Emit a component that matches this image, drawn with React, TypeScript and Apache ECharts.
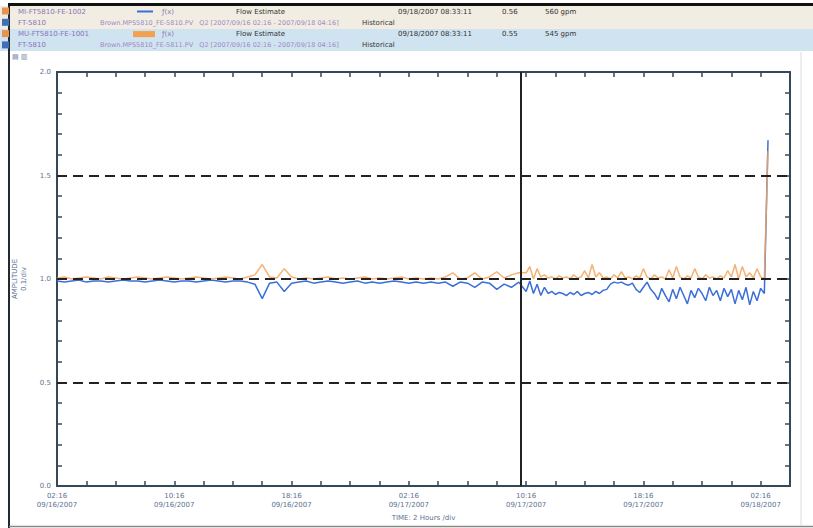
import React, { useEffect, useRef } from "react";
import * as echarts from "echarts";

// Time axis: hours since 09/16/2007 02:16, one division = 2 hours
const xTickLabels = [
  "02:16\n09/16/2007",
  "10:16\n09/16/2007",
  "18:16\n09/16/2007",
  "02:16\n09/17/2007",
  "10:16\n09/17/2007",
  "18:16\n09/17/2007",
  "02:16\n09/18/2007",
];
const yTickLabels = ["0.0", "0.5", "1.0", "1.5", "2.0"];

// first part: one sample every 0.5 h from hour 0
const EARLY_START = 0;
const EARLY_STEP = 0.5;
const blueEarly = [
  0.99, 0.985, 0.99, 0.995, 0.985, 0.99, 0.99, 0.985, 0.99, 0.995,
  0.99, 0.99, 0.985, 0.99, 0.995, 0.99, 0.985, 0.99, 0.99, 0.985,
  0.99, 0.995, 0.99, 0.985, 0.99, 0.99, 0.985, 0.975, 0.905, 0.98,
  0.985, 0.94, 0.98, 0.985, 0.99, 0.98, 0.985, 0.99, 0.985, 0.98,
  0.985, 0.99, 0.98, 0.985, 0.98, 0.985, 0.99, 0.985, 0.98, 0.985,
  0.98, 0.985, 0.98, 0.985, 0.965, 0.985, 0.98, 0.96, 0.985, 0.98,
  0.95, 0.975, 0.96, 0.985,
];
const orangeEarly = [
  1.005, 1.01, 1.0, 1.005, 1.01, 1.005, 1.0, 1.01, 1.005, 1.0,
  1.005, 1.01, 1.005, 1.0, 1.005, 1.01, 1.005, 1.0, 1.005, 1.01,
  1.005, 1.0, 1.005, 1.01, 1.005, 1.0, 1.01, 1.02, 1.07, 1.01,
  1.005, 1.05, 1.01, 1.0, 1.005, 1.0, 1.005, 1.01, 1.0, 1.005,
  1.0, 1.005, 1.01, 1.0, 1.005, 1.0, 1.005, 1.01, 1.0, 1.005,
  1.0, 1.005, 1.0, 1.01, 1.03, 1.0, 1.005, 1.03, 1.0, 1.01,
  1.035, 1.005, 1.02, 1.03,
];

// second part: one sample every 0.25 h from hour 32
const LATE_START = 32;
const LATE_STEP = 0.25;
const blueLate = [
  0.94, 0.99, 0.93, 0.975, 0.92, 0.96, 0.93, 0.94, 0.925, 0.935,
  0.93, 0.92, 0.935, 0.925, 0.94, 0.92, 0.93, 0.935, 0.925, 0.94,
  0.93, 0.945, 0.95, 0.975, 0.985, 0.98, 0.985, 0.975, 0.97, 0.98,
  0.95, 0.935, 0.96, 0.985, 0.95, 0.93, 0.9, 0.955, 0.92, 0.89,
  0.95, 0.905, 0.96, 0.92, 0.88, 0.945, 0.91, 0.955, 0.93, 0.895,
  0.96, 0.92, 0.945, 0.895, 0.955, 0.915, 0.95, 0.88, 0.945, 0.9,
  0.96, 0.875, 0.94, 0.895, 0.955, 0.93, 1.67,
];
const orangeLate = [
  1.03, 1.06, 1.0, 1.05, 1.01, 1.02, 1.005, 1.01, 1.0, 1.015,
  1.005, 1.01, 1.0, 1.02, 1.005, 1.01, 1.04, 1.005, 1.07, 1.01,
  1.03, 1.005, 1.01, 1.0, 1.02, 1.005, 1.035, 1.005, 1.01, 1.0,
  1.015, 1.005, 1.05, 1.01, 1.0, 1.02, 1.005, 1.01, 1.0, 1.045,
  1.005, 1.06, 1.01, 1.0, 1.015, 1.005, 1.05, 1.01, 1.0, 1.02,
  1.005, 1.01, 1.0, 1.015, 1.005, 1.04, 1.01, 1.07, 1.0, 1.06,
  1.01, 1.03, 1.005, 1.05, 1.01, 1.0, 1.62,
];

const cursorHour = 31.6;
const referenceLevels = [0.5, 1.0, 1.5];

const headerRows = [
  { tag: "MI-FT5810-FE-1002", src: "", desc: "Flow Estimate", time: "09/18/2007 08:33:11", val: "0.56", unit: "560 gpm", legend: "line" },
  { tag: "FT-5810", src: "Brown.MPS5810_FE-5810.PV   Q2 [2007/09/16 02:16 - 2007/09/18 04:16]", desc: "Historical", time: "", val: "", unit: "", legend: "" },
  { tag: "MU-FT5810-FE-1001", src: "", desc: "Flow Estimate", time: "09/18/2007 08:33:11", val: "0.55", unit: "545 gpm", legend: "box" },
  { tag: "FT-5810", src: "Brown.MPS5810_FE-5811.PV   Q2 [2007/09/16 02:16 - 2007/09/18 04:16]", desc: "Historical", time: "", val: "", unit: "", legend: "" },
];

function toPairs(start: number, step: number, vals: number[]) {
  return vals.map((v, i) => [start + i * step, v]);
}

export default function App() {
  const ref = useRef<HTMLDivElement>(null);
  useEffect(() => {
    if (!ref.current) return;
    const chart = echarts.init(ref.current, null, { renderer: "svg" });
    const blueData = [...toPairs(EARLY_START, EARLY_STEP, blueEarly), ...toPairs(LATE_START, LATE_STEP, blueLate)];
    const orangeData = [...toPairs(EARLY_START, EARLY_STEP, orangeEarly), ...toPairs(LATE_START, LATE_STEP, orangeLate)];

    const axisColor = "#34485a";
    const labelColor = "#5d7190";
    const font = "DejaVu Sans";

    const graphics: any[] = [];
    graphics.push({ type: "rect", shape: { x: 0, y: 6, width: 813, height: 23 }, style: { fill: "#f2ede2" }, silent: true });
    graphics.push({ type: "rect", shape: { x: 0, y: 29, width: 813, height: 22 }, style: { fill: "#cfe3f0" }, silent: true });
    graphics.push({ type: "rect", shape: { x: 8, y: 3, width: 805, height: 3 }, style: { fill: "#111" }, silent: true });
    graphics.push({ type: "line", shape: { x1: 9, y1: 6, x2: 9, y2: 528 }, style: { stroke: "#1f2a33", lineWidth: 2 }, silent: true });
    graphics.push({ type: "line", shape: { x1: 9, y1: 526.5, x2: 813, y2: 526.5 }, style: { stroke: "#888", lineWidth: 1.5 }, silent: true });
    graphics.push({ type: "line", shape: { x1: 801, y1: 52, x2: 801, y2: 526 }, style: { stroke: "#d6dbe0", lineWidth: 1 }, silent: true });

    headerRows.forEach((r, i) => {
      const cy = 11.5 + i * 11.3;
      graphics.push({ type: "rect", shape: { x: 2, y: cy - 4, width: 7, height: 7 }, style: { fill: i % 2 === 0 ? "#e8924a" : "#3f6fb5" }, silent: true });
      graphics.push({ type: "text", x: 18, y: cy, style: { text: r.tag, fill: "#8a74b8", font: `7px '${font}'`, verticalAlign: "middle" }, silent: true });
      if (r.legend === "line") {
        graphics.push({ type: "line", shape: { x1: 137, y1: cy, x2: 153, y2: cy }, style: { stroke: "#3a6fd8", lineWidth: 2 }, silent: true });
        graphics.push({ type: "text", x: 162, y: cy, style: { text: "ƒ(x)", fill: "#8a74b8", font: `7px '${font}'`, verticalAlign: "middle" }, silent: true });
      } else if (r.legend === "box") {
        graphics.push({ type: "rect", shape: { x: 133, y: cy - 3, width: 22, height: 6 }, style: { fill: "#f5a04e" }, silent: true });
        graphics.push({ type: "text", x: 162, y: cy, style: { text: "ƒ(x)", fill: "#8a74b8", font: `7px '${font}'`, verticalAlign: "middle" }, silent: true });
      }
      if (r.src) {
        graphics.push({ type: "text", x: 100, y: cy, style: { text: r.src, fill: "#a08ac4", font: `6.5px '${font}'`, verticalAlign: "middle" }, silent: true });
        graphics.push({ type: "text", x: 362, y: cy, style: { text: r.desc, fill: "#333", font: `7px '${font}'`, verticalAlign: "middle" }, silent: true });
      } else {
        graphics.push({ type: "text", x: 236, y: cy, style: { text: r.desc, fill: "#333", font: `7px '${font}'`, verticalAlign: "middle" }, silent: true });
        graphics.push({ type: "text", x: 398, y: cy, style: { text: r.time, fill: "#333", font: `7px '${font}'`, verticalAlign: "middle" }, silent: true });
        graphics.push({ type: "text", x: 502, y: cy, style: { text: r.val, fill: "#333", font: `7px '${font}'`, verticalAlign: "middle" }, silent: true });
        graphics.push({ type: "text", x: 545, y: cy, style: { text: r.unit, fill: "#333", font: `7px '${font}'`, verticalAlign: "middle" }, silent: true });
      }
    });
    graphics.push({ type: "text", x: 12, y: 57, style: { text: "▤ ▥", fill: "#6f86a8", font: `7px '${font}'`, verticalAlign: "middle" }, silent: true });

    const mkX = (pos: "bottom" | "top", labels: boolean) => ({
      type: "value",
      position: pos,
      min: 0,
      max: 50,
      interval: 2,
      axisLine: { show: true, onZero: false, lineStyle: { color: axisColor, width: 2 } },
      axisTick: { show: true, inside: true, length: 5, lineStyle: { color: axisColor, width: 1.5 } },
      splitLine: { show: false },
      axisLabel: labels
        ? {
            show: true,
            color: labelColor,
            fontFamily: font,
            fontSize: 7,
            lineHeight: 9,
            margin: 5,
            showMaxLabel: false,
            formatter: (v: number) => {
              const k = v / 8;
              if (Math.abs(k - Math.round(k)) > 1e-6) return "";
              return xTickLabels[Math.round(k)] ?? "";
            },
          }
        : { show: false },
      name: labels ? "TIME: 2 Hours /div" : "",
      nameLocation: "middle",
      nameGap: 28,
      nameTextStyle: { color: labelColor, fontFamily: font, fontSize: 7 },
    });
    const mkY = (pos: "left" | "right", labels: boolean) => ({
      type: "value",
      position: pos,
      min: 0,
      max: 2,
      interval: 0.1,
      axisLine: { show: true, onZero: false, lineStyle: { color: axisColor, width: 2 } },
      axisTick: { show: true, inside: true, length: 5, lineStyle: { color: axisColor, width: 1.5 } },
      splitLine: { show: false },
      axisLabel: labels
        ? {
            show: true,
            color: labelColor,
            fontFamily: font,
            fontSize: 7,
            margin: 6,
            formatter: (v: number) => {
              const k = v * 2;
              if (Math.abs(k - Math.round(k)) > 1e-6) return "";
              return yTickLabels[Math.round(k)] ?? "";
            },
          }
        : { show: false },
      name: labels ? "AMPLITUDE\n0.1/div" : "",
      nameLocation: "middle",
      nameRotate: 90,
      nameGap: 24,
      nameTextStyle: { color: labelColor, fontFamily: font, fontSize: 7, lineHeight: 9 },
    });

    chart.setOption({
      animation: false,
      backgroundColor: "#ffffff",
      grid: { left: 57, right: 23, top: 72, bottom: 42, containLabel: false },
      xAxis: [mkX("bottom", true), mkX("top", false)],
      yAxis: [mkY("left", true), mkY("right", false)],
      graphic: graphics,
      series: [
        {
          name: "MI-FT5810-FE-1002",
          type: "line",
          data: blueData,
          symbol: "none",
          lineStyle: { color: "#3a6fd8", width: 1.5 },
          z: 3,
          markLine: {
            silent: true,
            symbol: "none",
            label: { show: false },
            data: [
              ...referenceLevels.map((v) => ({ yAxis: v, lineStyle: { color: "#222", width: 2, type: [10, 6] } })),
              { xAxis: cursorHour, lineStyle: { color: "#222", width: 2, type: "solid" } },
            ],
          },
        },
        {
          name: "MU-FT5810-FE-1001",
          type: "line",
          data: orangeData,
          symbol: "none",
          lineStyle: { color: "#f5a35c", width: 1.5, opacity: 0.85 },
          z: 4,
        },
      ],
    });
    return () => chart.dispose();
  }, []);
  return <div ref={ref} style={{ position: "fixed", left: 0, top: 0, width: 813, height: 528 }} />;
}
